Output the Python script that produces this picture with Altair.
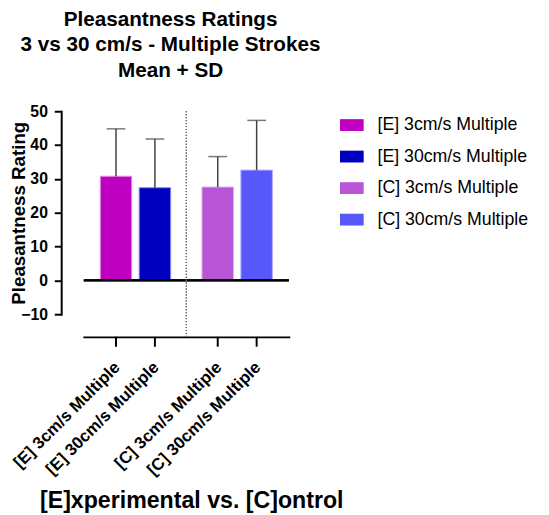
import altair as alt
import pandas as pd

labels = ["[E] 3cm/s Multiple", "[E] 30cm/s Multiple", "[C] 3cm/s Multiple", "[C] 30cm/s Multiple"]
groups = ["E", "E", "C", "C"]
speeds = ["3", "30", "3", "30"]
means = [30.8, 27.4, 27.6, 32.6]
sds = [14.0, 14.4, 9.0, 14.7]
fills = ["#C000C0", "#0000C0", "#B956D6", "#5858FA"]
strokes = ["#E49AE4", "#8A8AE6", "#DDB0EE", "#ADADFC"]
y_ticks = [-10, 0, 10, 20, 30, 40, 50]

df = pd.DataFrame({
    "label": labels,
    "group": groups,
    "speed": speeds,
    "mean": means,
    "sd": sds,
})
df["top"] = df["mean"] + df["sd"]

W, H = 208, 206
FONT = "Liberation Sans"

xscale = alt.Scale(paddingInner=0.2, paddingOuter=0.1073)
xaxis = alt.Axis(title="[E]xperimental vs. [C]ontrol", labels=False, ticks=False,
                 domainColor="black", domainWidth=2, offset=23,
                 titleFont=FONT, titleFontSize=23.5, titleFontWeight="bold",
                 titleColor="black", titleX=109, titleY=173,
                 titleBaseline="alphabetic", titleAlign="center")
offscale = alt.Scale(paddingInner=0.19, paddingOuter=0.1406)

yscale = alt.Scale(domain=[-10, 50], nice=False, zero=False)
yaxis = alt.Axis(title="Pleasantness Rating", values=y_ticks, offset=23,
                 domainColor="black", domainWidth=2, tickColor="black",
                 tickWidth=2, tickSize=7, labelPadding=7, grid=False,
                 labelOverlap=False, labelFlush=False,
                 labelFont=FONT, labelFontSize=16, labelFontWeight="bold",
                 labelColor="black",
                 titleFont=FONT, titleFontSize=19, titleFontWeight="bold",
                 titleColor="black", titleX=-37, titleY=103, titleAngle=270,
                 titleBaseline="alphabetic", titleAlign="center")


def xch():
    return alt.X("group:N", sort=["E", "C"], scale=xscale, axis=xaxis)


def offch():
    return alt.XOffset("speed:N", sort=["3", "30"], scale=offscale)


base = alt.Chart(df)

bars = base.mark_bar(strokeWidth=1).encode(
    x=xch(),
    xOffset=offch(),
    y=alt.Y("mean:Q", scale=yscale, axis=yaxis),
    y2=alt.datum(0),
    color=alt.Color("label:N", sort=labels,
                    scale=alt.Scale(domain=labels, range=fills),
                    legend=alt.Legend(title=None, orient="none", legendX=260, legendY=2,
                                      symbolType="M-1,-0.5H1V0.5H-1Z", symbolSize=576,
                                      symbolStrokeWidth=0, labelFont=FONT, labelFontSize=18,
                                      labelColor="black", labelOffset=14, rowPadding=11,
                                      labelLimit=0, padding=0)),
    stroke=alt.Stroke("label:N", scale=alt.Scale(domain=labels, range=strokes), legend=None),
)

err = base.mark_rule(color="#404040", strokeWidth=1.5).encode(
    x=xch(),
    xOffset=offch(),
    y=alt.Y("mean:Q", scale=yscale, axis=yaxis),
    y2=alt.Y2("top:Q"),
)

caps = base.mark_tick(color="#404040", size=19, thickness=1.5, orient="horizontal").encode(
    x=xch(),
    xOffset=offch(),
    y=alt.Y("top:Q", scale=yscale, axis=yaxis),
)

xticks = base.mark_rule(color="black", strokeWidth=2).encode(
    x=xch(),
    xOffset=offch(),
    y=alt.value(H + 23),
    y2=alt.value(H + 33),
)

xlabels = base.mark_text(angle=315, align="right", baseline="middle", font=FONT,
                         fontSize=17, fontWeight="bold", color="black", dx=2).encode(
    x=xch(),
    xOffset=offch(),
    y=alt.value(H + 53),
    text="label:N",
)

zero = base.mark_rule(color="black", strokeWidth=2).encode(
    y=alt.Y(datum=0, scale=yscale, axis=yaxis),
    x=alt.value(0),
    x2=alt.value(W),
)

divider = base.mark_rule(color="#666666", strokeWidth=1, strokeDash=[1, 2]).encode(
    x=alt.value(W / 2),
    y=alt.value(0),
    y2=alt.value(H + 23),
)

chart = alt.layer(bars, err, caps, zero, divider, xticks, xlabels).properties(
    width=W,
    height=H,
    title=alt.TitleParams(
        text=["Pleasantness Ratings", "3 vs 30 cm/s  - Multiple Strokes", "Mean + SD"],
        font=FONT, fontSize=21, fontWeight="bold", color="black",
        anchor="middle", dx=-16, lineHeight=26, offset=23,
    ),
    autosize=alt.AutoSizeParams(type="none"),
    padding={"left": 77, "top": 101, "right": 256, "bottom": 200},
).configure_view(stroke=None).configure_axis(domainCap="square")

chart.save("out.html", embed_options={"renderer": "svg", "actions": False})
